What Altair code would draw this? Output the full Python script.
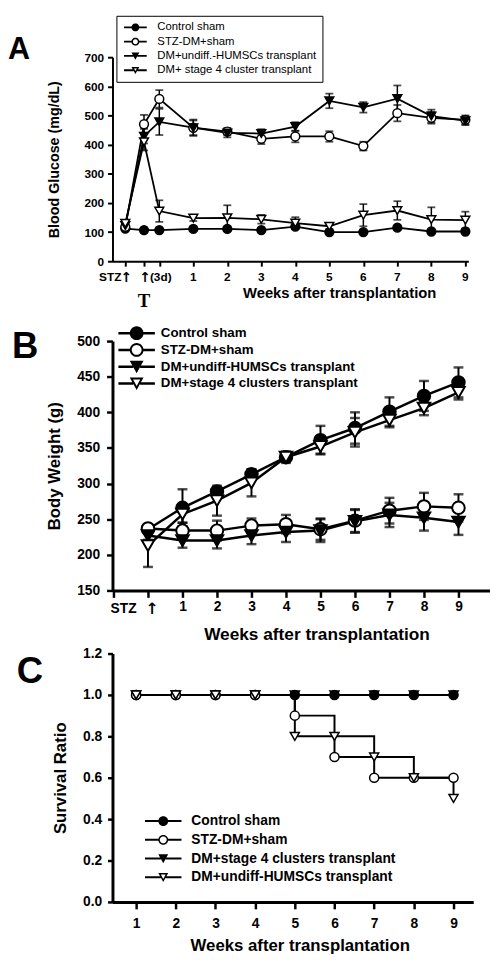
import math
import altair as alt
import pandas as pd

FONT = "Liberation Sans"

# ---------------- Panel A: blood glucose ----------------
A_GROUPS = ["Control sham", "STZ-DM+sham", "DM+undiff.-HUMSCs transplant", "DM+ stage 4 cluster transplant"]
A_X = [-1, -0.45, 0, 1, 2, 3, 4, 5, 6, 7, 8, 9]
A_CONTROL = [112, 107, 107, 111, 111, 107, 119, 100, 100, 115, 102, 102]
A_CONTROL_ERR = [5, 4, 4, 5, 5, 5, 6, 4, 4, 6, 4, 4]
A_STZ = [118, 470, 557, 458, 445, 420, 428, 428, 395, 508, 492, 485]
A_STZ_ERR = [8, 32, 30, 25, 12, 18, 20, 18, 15, 28, 20, 15]
A_UNDIFF = [122, 429, 478, 458, 440, 438, 462, 550, 528, 558, 498, 482]
A_UNDIFF_ERR = [8, 25, 45, 28, 15, 15, 15, 25, 18, 45, 22, 15]
A_STAGE4 = [130, 410, 172, 148, 149, 144, 131, 120, 158, 174, 143, 141]
A_STAGE4_ERR = [10, 30, 37, 10, 43, 15, 20, 10, 38, 32, 42, 29]
A_TICKS = [-1, -0.45, 0, 1, 2, 3, 4, 5, 6, 7, 8, 9]
A_WEEK_LABELS = ["1", "2", "3", "4", "5", "6", "7", "8", "9"]
A_WEEK_X = [1, 2, 3, 4, 5, 6, 7, 8, 9]
A_Y_TICKS = [0, 100, 200, 300, 400, 500, 600, 700]

# ---------------- Panel B: body weight ----------------
B_GROUPS = ["Control sham", "STZ-DM+sham", "DM+undiff-HUMSCs transplant", "DM+stage 4 clusters transplant"]
B_X = [0, 1, 2, 3, 4, 5, 6, 7, 8, 9]
B_CONTROL = [236, 266, 289, 313, 337, 361, 378, 401, 423, 442]
B_CONTROL_ERR = [6, 26, 5, 7, 5, 20, 22, 20, 21, 21]
B_STZ = [237, 234, 234, 241, 243, 236, 248, 262, 268, 266]
B_STZ_ERR = [6, 11, 14, 10, 13, 15, 16, 18, 19, 19]
B_UNDIFF = [227, 220, 220, 227, 232, 234, 247, 256, 252, 246]
B_UNDIFF_ERR = [6, 10, 11, 12, 14, 16, 16, 17, 18, 18]
B_STAGE4 = [213, 257, 276, 301, 337, 352, 372, 389, 406, 428]
B_STAGE4_ERR = [30, 12, 21, 19, 8, 10, 20, 10, 10, 10]
B_TICKS = [-1, 0, 1, 2, 3, 4, 5, 6, 7, 8, 9]
B_Y_TICKS = [150, 200, 250, 300, 350, 400, 450, 500]

# ---------------- Panel C: survival ----------------
C_GROUPS = ["Control sham", "STZ-DM+sham", "DM+stage 4 clusters transplant", "DM+undiff-HUMSCs transplant"]
C_X = [1, 2, 3, 4, 5, 6, 7, 8, 9]
C_CONTROL = [1.0, 1.0, 1.0, 1.0, 1.0, 1.0, 1.0, 1.0, 1.0]
C_STZ = [1.0, 1.0, 1.0, 1.0, 0.9, 0.7, 0.6, 0.6, 0.6]
C_STAGE4 = [1.0, 1.0, 1.0, 1.0, 1.0, 1.0, 1.0, 1.0, 1.0]
C_UNDIFF = [1.0, 1.0, 1.0, 1.0, 0.8, 0.8, 0.7, 0.6, 0.5]
C_Y_TICKS = [0.0, 0.2, 0.4, 0.6, 0.8, 1.0, 1.2]

MARK_SHAPES = ["circle", "circle", "triangle-down", "triangle-down"]
FILLS = ["black", "white", "black", "white"]
KINDS = ["circle", "circle", "tri", "tri"]
OPEN = [False, True, False, True]


def to_long(groups, xs, series, errs=None):
    rows = []
    for gi, g in enumerate(groups):
        for i, xv in enumerate(xs):
            v = series[gi][i]
            e = errs[gi][i] if errs else 0
            rows.append({"group": g, "gi": gi, "x": xv, "y": v, "lo": v - e, "hi": v + e})
    return pd.DataFrame(rows)


def fmt(v):
    return f"{v:.3f}"


def poly(pts):
    return "M" + "L".join(f"{fmt(px)},{fmt(py)}" for px, py in pts) + "Z"


def glyph(kind, is_open, length, unit, lw_px, sw_px):
    """Legend glyph (line + marker) as filled geometry, in symbol units."""
    s = -1.0
    e = s + length
    c = (s + e) / 2
    t = lw_px / 2 / unit
    sw = sw_px / unit
    gap = 0.98 if kind == "circle" else 0.5
    out = poly([(s, -t), (c - gap, -t), (c - gap, t), (s, t)])
    out += poly([(c + gap, -t), (e, -t), (e, t), (c + gap, t)])
    if kind == "circle":
        n = 28
        outer = [(c + math.cos(2 * math.pi * k / n), math.sin(2 * math.pi * k / n)) for k in range(n)]
        out += poly(outer)
        if is_open:
            r = 1 - sw
            inner = [(c + r * math.cos(-2 * math.pi * k / n), r * math.sin(-2 * math.pi * k / n)) for k in range(n)]
            out += poly(inner)
    else:
        p1, p2, p3 = (c - 1, -0.85), (c + 1, -0.85), (c, 0.95)
        out += poly([p1, p2, p3])
        if is_open:
            r_in = 0.588
            iy = -0.85 + r_in
            k = max((r_in - sw) / r_in, 0.05)
            q = [(c + (px - c) * k, iy + (py - iy) * k) for px, py in (p1, p3, p2)]
            out += poly(q)
    return out


def legend_paths(length, unit, lw_px, sw_px):
    return [glyph(KINDS[i], OPEN[i], length, unit, lw_px, sw_px) for i in range(4)]


def panel(df, groups, X, yenc, msize, msw, lw, err=None, interp="linear",
          leg=None, leg_size=64, leg_len=5.75, leg_lw=1.8, leg_sw=1.5, extra=None):
    base = alt.Chart(df)
    layers = [
        base.mark_line(color="black", strokeWidth=lw, interpolate=interp).encode(
            x=X, y=yenc("y"), detail="group:N")
    ]
    if err is not None:
        rule_w, cap, cap_t = err
        layers.append(base.mark_rule(color="black", strokeWidth=rule_w).encode(
            x=X, y=yenc("lo"), y2="hi:Q"))
        layers.append(base.mark_tick(orient="horizontal", color="black", size=cap, thickness=cap_t).encode(
            x=X, y=yenc("hi")))
        layers.append(base.mark_tick(orient="horizontal", color="black", size=cap, thickness=cap_t).encode(
            x=X, y=yenc("lo")))
    for gi, g in enumerate(groups):
        layers.append(alt.Chart(df[df["group"] == g]).mark_point(
            shape=MARK_SHAPES[gi], filled=True, fill=FILLS[gi], stroke="black", strokeWidth=msw,
            size=msize, opacity=1).encode(x=X, y=yenc("y")))
    first = df.groupby("group", sort=False).first().reset_index()
    unit = math.sqrt(leg_size) / 2
    layers.append(alt.Chart(first).mark_point(filled=True, color="black", size=leg_size, opacity=0).encode(
        x=X, y=yenc("y"),
        shape=alt.Shape("group:N", scale=alt.Scale(domain=groups,
                                                   range=legend_paths(leg_len, unit, leg_lw, leg_sw)),
                        legend=leg),
    ))
    if extra:
        layers.extend(extra)
    return alt.layer(*layers)


def letter(txt, x, y, size):
    return alt.Chart(pd.DataFrame({"t": [txt]})).mark_text(
        align="left", baseline="alphabetic", font=FONT, fontSize=size, fontWeight="bold", color="black"
    ).encode(x=alt.value(x), y=alt.value(y), text="t:N")


def common_legend(x, y, fs, fw, off, rp, pad, size, **kw):
    return alt.Legend(title=None, orient="none", legendX=x, legendY=y, direction="vertical",
                      labelFont=FONT, labelFontSize=fs, labelFontWeight=fw, labelColor="black",
                      labelOffset=off, labelLimit=400, rowPadding=rp, padding=pad,
                      symbolSize=size, symbolStrokeWidth=0, symbolFillColor="black",
                      symbolOpacity=1, **kw)


# ================= Panel A =================
AW, AH = 361, 207
a_df = to_long(A_GROUPS, A_X, [A_CONTROL, A_STZ, A_UNDIFF, A_STAGE4],
               [A_CONTROL_ERR, A_STZ_ERR, A_UNDIFF_ERR, A_STAGE4_ERR])
A_XS = alt.Scale(domain=[-1.377, 9.087], nice=False, zero=False)
A_YS = alt.Scale(domain=[0, 700], nice=False, zero=False)
A_XA = alt.Axis(title="Weeks after transplantation", values=A_TICKS, labels=False,
                tickSize=5, tickWidth=2, domainWidth=2,
                titleFontSize=15, titleX=230, titleY=25, titleBaseline="top", titleAlign="center")
A_YA = alt.Axis(title="Blood Glucose (mg/dL)", values=A_Y_TICKS, tickSize=5, tickWidth=2, domainWidth=2,
                labelFontSize=12, labelPadding=4, labelOverlap=False, labelFlush=False,
                titleFontSize=14.5, titleX=-59, titleY=AH / 2, titleBaseline="middle",
                titleAlign="center", titleAngle=270)
AX = alt.X("x:Q", scale=A_XS, axis=A_XA)


def a_y(f):
    return alt.Y(f + ":Q", scale=A_YS, axis=A_YA)


A_LEG = common_legend(4, -42, 11.5, "normal", 24, 1.5, 6, 64, strokeColor="black", fillColor="white")

A_LBL_LEFT = ["STZ"]
A_LBL_LEFT_X = [-1]
A_ARROWS_X = [-1, -0.45]
A_LBL_RIGHT = ["(3d)"]
A_LBL_RIGHT_X = [-0.45]
A_T_X = [-0.45]

a_extra = [
    alt.Chart(pd.DataFrame({"x": A_WEEK_X, "t": A_WEEK_LABELS})).mark_text(
        align="center", baseline="alphabetic", font=FONT, fontSize=12, fontWeight="bold", color="black"
    ).encode(x=AX, y=alt.value(AH + 20), text="t:N"),
    alt.Chart(pd.DataFrame({"x": A_LBL_LEFT_X, "t": A_LBL_LEFT})).mark_text(
        align="right", baseline="alphabetic", dx=-4, font=FONT, fontSize=12, fontWeight="bold", color="black"
    ).encode(x=AX, y=alt.value(AH + 20), text="t:N"),
    alt.Chart(pd.DataFrame({"x": A_ARROWS_X, "t": ["\u2191"] * len(A_ARROWS_X)})).mark_text(
        align="center", baseline="alphabetic", dx=1, font="DejaVu Sans", fontSize=14, fontWeight="bold",
        color="black"
    ).encode(x=AX, y=alt.value(AH + 21), text="t:N"),
    alt.Chart(pd.DataFrame({"x": A_LBL_RIGHT_X, "t": A_LBL_RIGHT})).mark_text(
        align="left", baseline="alphabetic", dx=6, font=FONT, fontSize=12, fontWeight="bold", color="black"
    ).encode(x=AX, y=alt.value(AH + 20), text="t:N"),
    alt.Chart(pd.DataFrame({"x": A_T_X, "t": ["T"]})).mark_text(
        align="center", baseline="alphabetic", font="Liberation Serif", fontSize=19, fontWeight="bold",
        color="black"
    ).encode(x=AX, y=alt.value(AH + 46), text="t:N"),
    letter("A", -106, 2, 31),
]

chart_a = panel(a_df, A_GROUPS, AX, a_y, msize=80, msw=1.5, lw=1.8, err=(1.5, 8, 1.8),
                leg=A_LEG, leg_size=64, leg_len=5.75, leg_lw=1.8, leg_sw=1.5,
                extra=a_extra).properties(width=AW, height=AH)

# ================= Panel B =================
BW, BH, BTOP = 383, 270, 17
b_df = to_long(B_GROUPS, B_X, [B_CONTROL, B_STZ, B_UNDIFF, B_STAGE4],
               [B_CONTROL_ERR, B_STZ_ERR, B_UNDIFF_ERR, B_STAGE4_ERR])
B_XS = alt.Scale(domain=[-1.029, 9.914], nice=False, zero=False)
B_YS = alt.Scale(domain=[150, 500], range=[BH, BTOP], nice=False, zero=False)
B_XA = alt.Axis(title="Weeks after transplantation", values=B_TICKS, format="d",
                labelExpr="datum.value >= 1 ? datum.label : ''", labelOverlap=False, labelFlush=False,
                tickSize=7, tickWidth=2.5, domainWidth=3, labelFontSize=14, labelPadding=2,
                titleFontSize=17.5, titleX=207, titleY=36, titleBaseline="top", titleAlign="center")
B_YA = alt.Axis(title="Body Weight (g)", values=B_Y_TICKS, tickSize=6, tickWidth=2.5, domainWidth=3,
                labelFontSize=14, labelPadding=7, labelOverlap=False, labelFlush=False,
                titleFontSize=17, titleX=-59, titleY=(BH + BTOP) / 2, titleBaseline="middle",
                titleAlign="center", titleAngle=270)
BX = alt.X("x:Q", scale=B_XS, axis=B_XA)


def b_y(f):
    return alt.Y(f + ":Q", scale=B_YS, axis=B_YA)


B_LEG = common_legend(6, 2, 13.5, "bold", 29, 3, 0, 196)

B_LBL = ["STZ"]
B_LBL_X = [-1]
B_ARROW_X = [0]

b_extra = [
    alt.Chart(pd.DataFrame({"x": B_LBL_X, "t": B_LBL})).mark_text(
        align="left", baseline="alphabetic", dx=-3, font=FONT, fontSize=14, fontWeight="bold", color="black"
    ).encode(x=BX, y=alt.value(BH + 23), text="t:N"),
    alt.Chart(pd.DataFrame({"x": B_ARROW_X, "t": ["\u2191"]})).mark_text(
        align="center", baseline="alphabetic", dx=4, font="DejaVu Sans", fontSize=16, fontWeight="bold",
        color="black"
    ).encode(x=BX, y=alt.value(BH + 24), text="t:N"),
    letter("B", -102, 34, 37),
]

chart_b = panel(b_df, B_GROUPS, BX, b_y, msize=160, msw=2, lw=2.5, err=(2, 10, 2.5),
                leg=B_LEG, leg_size=196, leg_len=5.29, leg_lw=2.5, leg_sw=2,
                extra=b_extra).properties(width=BW, height=BH)

# ================= Panel C =================
CW, CH = 366, 252
c_df = to_long(C_GROUPS, C_X, [C_CONTROL, C_STZ, C_STAGE4, C_UNDIFF])
C_XS = alt.Scale(domain=[0.404, 9.497], nice=False, zero=False)
C_YS = alt.Scale(domain=[0, 1.2], nice=False, zero=False)
C_XA = alt.Axis(title="Weeks after transplantation", values=C_X, format="d", labelOverlap=False,
                labelFlush=False, tickSize=7, tickWidth=2.5, domainWidth=3, labelFontSize=14, labelPadding=8,
                titleFontSize=17, titleX=190, titleY=36, titleBaseline="top", titleAlign="center")
C_YA = alt.Axis(title="Survival Ratio", values=C_Y_TICKS, format=".1f", tickSize=5, tickWidth=2.5,
                domainWidth=3, labelFontSize=14, labelPadding=6, labelOverlap=False, labelFlush=False,
                titleFontSize=17, titleX=-53, titleY=CH / 2, titleBaseline="middle",
                titleAlign="center", titleAngle=270)
CX = alt.X("x:Q", scale=C_XS, axis=C_XA)


def c_y(f):
    return alt.Y(f + ":Q", scale=C_YS, axis=C_YA)


C_LEG = common_legend(31, 163, 14, "bold", 35, 5, 0, 100)

chart_c = panel(c_df, C_GROUPS, CX, c_y, msize=85, msw=1.5, lw=2, err=None, interp="step-after",
                leg=C_LEG, leg_size=100, leg_len=7.4, leg_lw=2, leg_sw=1.5,
                extra=[letter("C", -97, 30, 37)]).properties(width=CW, height=CH)

chart = alt.vconcat(chart_a, chart_b, chart_c, spacing=64, bounds="flush").resolve_scale(
    shape="independent"
).resolve_legend(
    shape="independent"
).properties(
    padding={"left": 0, "top": 0, "right": 0, "bottom": 0}
).configure_view(strokeWidth=0).configure_axis(
    grid=False, domainColor="black", tickColor="black", labelColor="black", titleColor="black",
    labelFont=FONT, titleFont=FONT, labelFontWeight="bold", titleFontWeight="bold"
)

chart.save("out.html", embed_options={"renderer": "svg", "actions": False})
